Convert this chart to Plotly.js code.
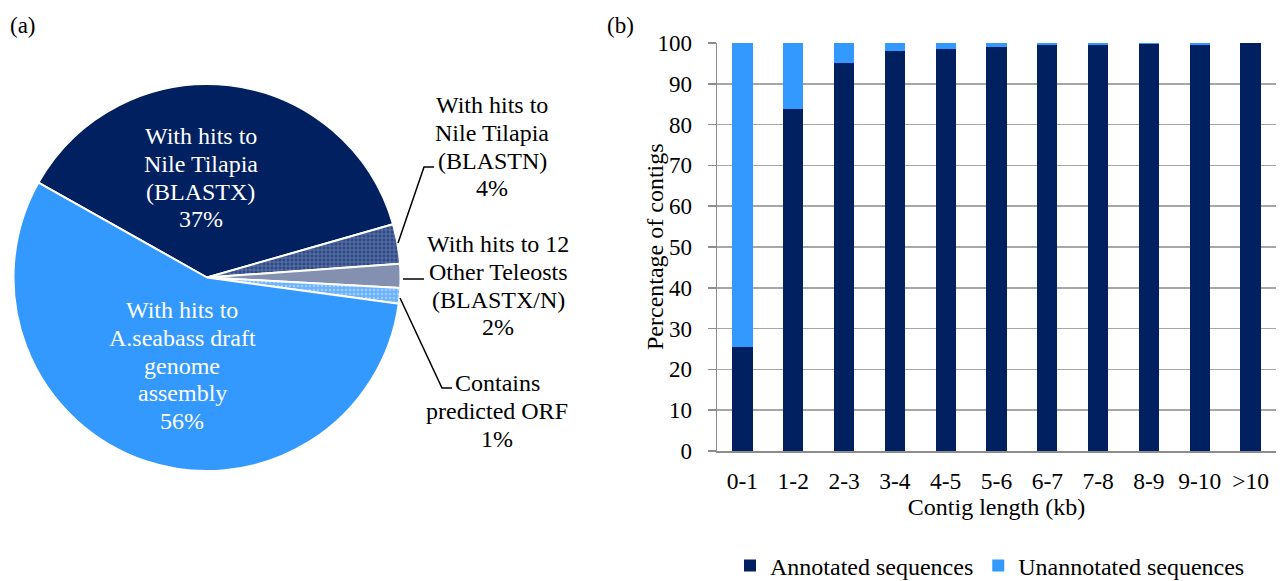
<!DOCTYPE html>
<html>
<head>
<meta charset="utf-8">
<script src="https://cdn.plot.ly/plotly-3.0.1.min.js"></script>
<style>html,body{margin:0;padding:0;background:#fff}#chart{width:1282px;height:581px}</style>
</head>
<body>
<div id="chart"></div>
<script>
// ---- Panel (a): pie data ----
var pieLabels = [
  "With hits to Nile Tilapia (BLASTX)",
  "With hits to Nile Tilapia (BLASTN)",
  "With hits to 12 Other Teleosts (BLASTX/N)",
  "Contains predicted ORF",
  "With hits to A.seabass draft genome assembly"
];
var pieValues = [37.4, 3.3, 2.0, 1.3, 56.0];
var pieTextLines = [
  ["With hits to", "Nile Tilapia", "(BLASTX)", "37%"],
  ["With hits to", "Nile Tilapia", "(BLASTN)", "4%"],
  ["With hits to 12", "Other Teleosts", "(BLASTX/N)", "2%"],
  ["Contains", "predicted ORF", "1%"],
  ["With hits to", "A.seabass draft", "genome", "assembly", "56%"]
];
var pieColors = ["#002060", "#2f4a86", "#8390b0", "#6cb2ff", "#3399ff"];

// ---- Panel (b): stacked bar data ----
var contigBins = ["0-1","1-2","2-3","3-4","4-5","5-6","6-7","7-8","8-9","9-10",">10"];
var annotatedPct = [25.5, 83.75, 95.2, 98.0, 98.6, 99.1, 99.5, 99.5, 99.75, 99.5, 100];
var unannotatedPct = [74.5, 16.25, 4.8, 2.0, 1.4, 0.9, 0.5, 0.5, 0.25, 0.5, 0];
var yTicks = [0,10,20,30,40,50,60,70,80,90,100];
var xTitle = "Contig length (kb)";
var yTitle = "Percentage of contigs";

var W = 1282, H = 581;
function px(x){ return x / W; }
function py(y){ return 1 - y / H; }
var FONT = "Liberation Serif";

var traces = [
  {
    type: "pie",
    labels: pieLabels,
    values: pieValues,
    sort: false,
    direction: "clockwise",
    rotation: -60.6,
    textinfo: "none",
    hoverinfo: "label+percent",
    showlegend: false,
    domain: {x: [px(13), px(401)], y: [py(471), py(84)]},
    marker: {
      colors: pieColors,
      line: {color: "#ffffff", width: 2},
      pattern: {
        shape: ["", "+", "", ".", ""],
        bgcolor: pieColors,
        fgcolor: ["#002060", "#7286b4", "#8390b0", "#a0ceff", "#3399ff"],
        fillmode: "replace",
        size: 4,
        solidity: 0.3
      }
    }
  },
  {
    type: "bar",
    name: "Annotated sequences",
    x: contigBins,
    y: annotatedPct,
    marker: {color: "#002060"},
    xaxis: "x", yaxis: "y"
  },
  {
    type: "bar",
    name: "Unannotated sequences",
    x: contigBins,
    y: unannotatedPct,
    marker: {color: "#3399ff"},
    xaxis: "x", yaxis: "y"
  }
];

// label placement (first-line centre) in pixels
var annPos = [
  {x: 201, y: 136, c: "#ffffff"},
  {x: 492, y: 105, c: "#000000"},
  {x: 498, y: 244, c: "#000000"},
  {x: 497, y: 383, c: "#000000"},
  {x: 182, y: 310, c: "#ffffff"}
];
var PITCH = 27.8;
var annotations = [];
pieTextLines.forEach(function(lines, i){
  lines.forEach(function(t, j){
    annotations.push({
      text: t, xref: "paper", yref: "paper",
      x: px(annPos[i].x), y: py(annPos[i].y + j * PITCH),
      xanchor: "center", yanchor: "middle",
      showarrow: false, align: "center",
      font: {family: FONT, size: 24, color: annPos[i].c}
    });
  });
});
annotations.push({text: "(a)", xref: "paper", yref: "paper", x: px(8), y: py(25),
  xanchor: "left", yanchor: "middle", showarrow: false, font: {family: FONT, size: 23, color: "#000"}});
annotations.push({text: "(b)", xref: "paper", yref: "paper", x: px(605), y: py(25),
  xanchor: "left", yanchor: "middle", showarrow: false, font: {family: FONT, size: 23, color: "#000"}});
annotations.push({text: yTitle, xref: "paper", yref: "paper", x: px(655), y: py(247),
  xanchor: "center", yanchor: "middle", textangle: -90, showarrow: false,
  font: {family: FONT, size: 24, color: "#000"}});

function pathPx(pts){
  return pts.map(function(p, i){ return (i ? "L" : "M") + px(p[0]) + "," + py(p[1]); }).join(" ");
}
var leader = {color: "#000000", width: 1.5};
var shapes = [
  {type: "path", xref: "paper", yref: "paper", path: pathPx([[398,243],[424,167],[434,167]]), line: leader},
  {type: "path", xref: "paper", yref: "paper", path: pathPx([[403,279],[424,279]]), line: leader},
  {type: "path", xref: "paper", yref: "paper", path: pathPx([[400,298],[442,388],[452,388]]), line: leader}
];

var layout = {
  width: W, height: H,
  margin: {l: 0, r: 0, t: 0, b: 0, autoexpand: false},
  paper_bgcolor: "#ffffff",
  plot_bgcolor: "#ffffff",
  font: {family: FONT, size: 23, color: "#000000"},
  barmode: "stack",
  bargap: 0.6,
  xaxis: {
    domain: [px(717), px(1276)],
    anchor: "y",
    showline: true, linecolor: "#8c8c8c", linewidth: 1.5,
    ticks: "", ticklabelstandoff: 8,
    tickfont: {family: FONT, size: 23.5, color: "#000"},
    showgrid: false,
    automargin: false,
    title: {text: xTitle, font: {family: FONT, size: 24, color: "#000"}, standoff: 2},
    fixedrange: true
  },
  yaxis: {
    domain: [py(451), py(43)],
    anchor: "x",
    range: [0, 100],
    tickvals: yTicks,
    ticktext: yTicks.map(String),
    showline: true, linecolor: "#8c8c8c", linewidth: 1.5,
    ticks: "outside", ticklen: 8, tickcolor: "#8c8c8c", tickwidth: 1.5,
    ticklabelstandoff: 11,
    showgrid: true, gridcolor: "#a6a6a6", gridwidth: 1.5,
    zeroline: false,
    automargin: false,
    tickfont: {family: FONT, size: 23, color: "#000"},
    fixedrange: true
  },
  legend: {
    orientation: "h",
    x: px(730), xanchor: "left",
    y: py(566), yanchor: "middle",
    font: {family: FONT, size: 24, color: "#000"},
    traceorder: "normal",
    itemwidth: 30,
    bgcolor: "rgba(0,0,0,0)"
  },
  annotations: annotations,
  shapes: shapes
};

Plotly.newPlot("chart", traces, layout, {displayModeBar: false, staticPlot: true});
</script>
</body>
</html>
